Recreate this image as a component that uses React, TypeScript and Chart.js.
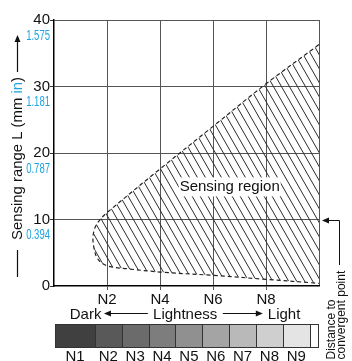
import { useEffect, useRef } from "react";
import { Chart, registerables } from "chart.js";

Chart.register(...registerables);

const FONT = "'Liberation Sans', Arial, sans-serif";
const BLUE = "#1fa3e0";

// Axis ticks
const yTicks = [0, 10, 20, 30, 40];
const inchLabels = ["", "0.394", "0.787", "1.181", "1.575"];
const xTicks = [0, 2, 4, 6, 8, 10];
const xTickLabels = ["", "N2", "N4", "N6", "N8", ""];

// Lightness scale
const grayLevels = ["N1", "N2", "N3", "N4", "N5", "N6", "N7", "N8", "N9"];
const grayColors = ["#404040", "#595959", "#6b6b6b", "#7d7d7d", "#909090", "#a4a4a4", "#b9b9b9", "#cfcfcf", "#e4e4e4"];

// Sensing region boundary (lightness value, sensing range mm)
const regionX = [10, 8, 6, 4, 2.05, 1.76, 1.55, 1.47, 1.52, 1.63, 1.86, 2.2, 2.74, 4, 6, 8, 10];
const regionY = [36.3, 30.4, 24.0, 17.6, 11.2, 10.1, 8.8, 7.2, 5.5, 4.2, 3.3, 2.85, 2.6, 2.1, 1.6, 1.0, 0.4];

function makeHatch(ctx: CanvasRenderingContext2D) {
  const w = 8, h = 14;
  const c = document.createElement("canvas");
  c.width = w;
  c.height = h;
  const g = c.getContext("2d")!;
  g.strokeStyle = "#2a2a2a";
  g.lineWidth = 1;
  for (const k of [-1, 0, 1]) {
    g.beginPath();
    g.moveTo(k * w - w, -h);
    g.lineTo(k * w + 2 * w, 2 * h);
    g.stroke();
  }
  return ctx.createPattern(c, "repeat")!;
}

function arrowHead(ctx: CanvasRenderingContext2D, x: number, y: number, dir: "left" | "right" | "up") {
  const L = 7, W = 3;
  ctx.beginPath();
  if (dir === "left") {
    ctx.moveTo(x, y); ctx.lineTo(x + L, y - W); ctx.lineTo(x + L, y + W);
  } else if (dir === "right") {
    ctx.moveTo(x, y); ctx.lineTo(x - L, y - W); ctx.lineTo(x - L, y + W);
  } else {
    ctx.moveTo(x, y); ctx.lineTo(x - W, y + L); ctx.lineTo(x + W, y + L);
  }
  ctx.closePath();
  ctx.fill();
}

const annotations = {
  id: "annotations",
  afterDatasetsDraw(chart: any) {
    const { ctx } = chart;
    const xs = chart.scales.x, ys = chart.scales.y;
    const cx = xs.getPixelForValue(6.63);
    const cy = ys.getPixelForValue(14.9);
    ctx.save();
    ctx.fillStyle = "#fff";
    ctx.fillRect(cx - 51, cy - 9.5, 102, 19);
    ctx.fillStyle = "#111";
    ctx.font = `15px ${FONT}`;
    ctx.textAlign = "center";
    ctx.textBaseline = "middle";
    ctx.fillText("Sensing region", cx, cy);
    ctx.restore();
  },
  afterDraw(chart: any) {
    const { ctx, chartArea: a } = chart;
    const xs = chart.scales.x, ys = chart.scales.y;
    const px = (v: number) => xs.getPixelForValue(v);
    const py = (v: number) => ys.getPixelForValue(v);
    ctx.save();

    // inch labels
    ctx.fillStyle = BLUE;
    ctx.font = `14px ${FONT}`;
    ctx.textAlign = "right";
    ctx.textBaseline = "middle";
    yTicks.forEach((v, i) => {
      if (!inchLabels[i]) return;
      ctx.save();
      ctx.translate(a.left - 4, py(v) + 16);
      ctx.scale(0.68, 1);
      ctx.fillText(inchLabels[i], 0, 0);
      ctx.restore();
    });

    // Lightness row
    ctx.fillStyle = "#111";
    ctx.strokeStyle = "#111";
    ctx.lineWidth = 1.2;
    ctx.font = `15px ${FONT}`;
    ctx.textBaseline = "alphabetic";
    const ly = a.bottom + 33;
    ctx.textAlign = "right";
    ctx.fillText("Dark", px(1.79), ly);
    ctx.textAlign = "center";
    ctx.fillText("Lightness", px(4.95), ly);
    ctx.textAlign = "left";
    ctx.fillText("Light", px(8.07), ly);
    const ay = ly - 5.5;
    ctx.beginPath();
    ctx.moveTo(px(1.885) + 5, ay); ctx.lineTo(px(3.54), ay);
    ctx.moveTo(px(6.37), ay); ctx.lineTo(px(7.88) - 5, ay);
    ctx.stroke();
    arrowHead(ctx, px(1.885), ay, "left");
    arrowHead(ctx, px(7.88), ay, "right");

    // gray scale bar
    const top = a.bottom + 38, h = 23;
    const edges = [0.04];
    for (let k = 1; k <= 9; k++) edges.push(1.545 + (k - 1) * 1.013);
    edges.push(9.97);
    ctx.strokeStyle = "#333";
    ctx.lineWidth = 1;
    for (let i = 0; i < 10; i++) {
      const x0 = Math.round(px(edges[i])) + 0.5;
      const x1 = Math.round(px(edges[i + 1])) + 0.5;
      ctx.fillStyle = i < 9 ? grayColors[i] : "#fff";
      ctx.fillRect(x0, top, x1 - x0, h);
      ctx.strokeRect(x0, top + 0.5, x1 - x0, h);
    }
    ctx.fillStyle = "#111";
    ctx.font = `15px ${FONT}`;
    ctx.textAlign = "center";
    grayLevels.forEach((lab, i) => {
      ctx.fillText(lab, (px(edges[i]) + px(edges[i + 1])) / 2, a.bottom + 74.5);
    });

    // distance to convergent point arrow
    const ry = Math.round(py(10)) + 0.5;
    ctx.strokeStyle = "#111";
    ctx.lineWidth = 1;
    ctx.beginPath();
    ctx.moveTo(339.5, 265);
    ctx.lineTo(339.5, ry);
    ctx.lineTo(a.right + 6, ry);
    ctx.stroke();
    ctx.fillStyle = "#111";
    arrowHead(ctx, a.right + 3, ry, "left");

    // rotated texts
    ctx.save();
    ctx.rotate(-Math.PI / 2);
    ctx.font = `12px ${FONT}`;
    ctx.textAlign = "left";
    ctx.textBaseline = "alphabetic";
    ctx.fillText("Distance to", -359.5, 334.5);
    ctx.fillText("convergent point", -359.5, 345);

    // y axis title: text between Y=240 and Y=77
    ctx.font = `15px ${FONT}`;
    ctx.textAlign = "left";
    const parts: [string, string][] = [["Sensing range L (mm ", "#111"], ["in", BLUE], [")", "#111"]];
    const total = parts.reduce((s, p) => s + ctx.measureText(p[0]).width, 0);
    const target = 163;
    ctx.save();
    ctx.translate(-240, 22);
    ctx.scale(target / total, 1);
    let u = 0;
    for (const [t, c] of parts) {
      ctx.fillStyle = c;
      ctx.fillText(t, u, 0);
      u += ctx.measureText(t).width;
    }
    ctx.restore();
    ctx.restore();

    ctx.strokeStyle = "#111";
    ctx.lineWidth = 1.2;
    ctx.beginPath();
    ctx.moveTo(17.5, 277);
    ctx.lineTo(17.5, 250);
    ctx.moveTo(17.5, 72);
    ctx.lineTo(17.5, 42);
    ctx.stroke();
    ctx.fillStyle = "#111";
    arrowHead(ctx, 17.5, 35, "up");
    ctx.restore();
  },
};

export default function App() {
  const ref = useRef<HTMLCanvasElement>(null);
  useEffect(() => {
    const canvas = ref.current!;
    const ctx = canvas.getContext("2d")!;
    const hatch = makeHatch(ctx);
    const tickFont = { family: FONT, size: 15 };
    const chart = new Chart(canvas, {
      type: "scatter",
      data: {
        datasets: [
          {
            data: regionX.map((x, i) => ({ x, y: regionY[i] })),
            showLine: true,
            fill: "shape",
            backgroundColor: hatch,
            borderColor: "#222",
            borderWidth: 1.2,
            borderDash: [4, 3],
            pointRadius: 0,
            tension: 0.35,
          } as any,
        ],
      },
      options: {
        responsive: false,
        animation: false,
        events: [],
        layout: { padding: { left: 0, top: 20, right: 33, bottom: 0 } },
        plugins: { legend: { display: false }, tooltip: { enabled: false } },
        scales: {
          x: {
            type: "linear",
            min: 0,
            max: 10,
            afterBuildTicks: (s: any) => {
              s.ticks = xTicks.map((v) => ({ value: v }));
            },
            afterFit: (s: any) => {
              s.height = 75;
            },
            ticks: {
              callback: (v: any) => xTickLabels[xTicks.indexOf(Number(v))] ?? "",
              font: tickFont,
              color: "#111",
              padding: 1,
              maxRotation: 0,
              autoSkip: false,
            },
            grid: {
              color: (c: any) => (c.tick && c.tick.value === 0 ? "rgba(0,0,0,0)" : "#555"),
              tickColor: (c: any) => (c.tick && (c.tick.value === 0 || c.tick.value === 10) ? "rgba(0,0,0,0)" : "#555"),
              tickLength: 4,
              lineWidth: 1,
            },
            border: { color: "#000", width: 1.5 },
          },
          y: {
            min: 0,
            max: 40,
            afterBuildTicks: (s: any) => {
              s.ticks = yTicks.map((v) => ({ value: v }));
            },
            afterFit: (s: any) => {
              s.width = 54;
            },
            ticks: { font: tickFont, color: "#111", padding: 0 },
            grid: {
              color: (c: any) => (c.tick && c.tick.value === 0 ? "rgba(0,0,0,0)" : "#555"),
              tickColor: "#333",
              tickLength: 4,
              lineWidth: 1,
            },
            border: { color: "#000", width: 1.5 },
          },
        },
      },
      plugins: [annotations],
    });
    return () => chart.destroy();
  }, []);
  return (
    <div style={{ position: "fixed", left: 0, top: 0, width: 352, height: 361, background: "#fff" }}>
      <canvas ref={ref} width={352} height={361} style={{ display: "block" }} />
    </div>
  );
}
